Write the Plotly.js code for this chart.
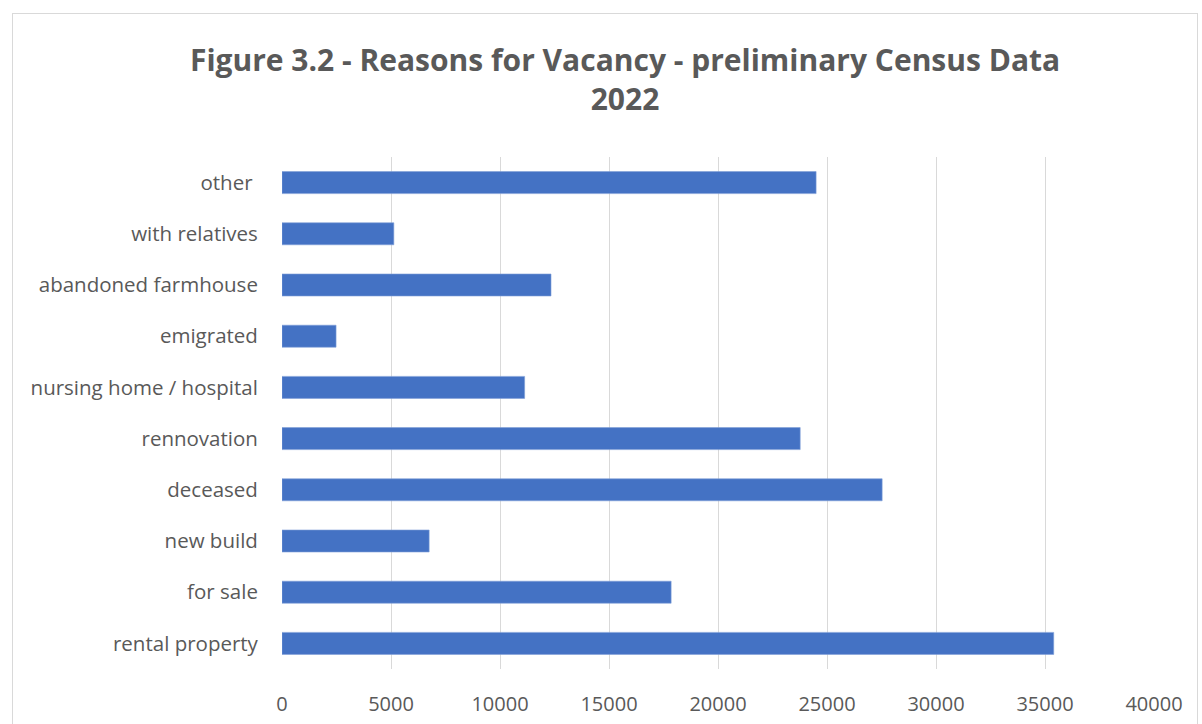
<!DOCTYPE html>
<html>
<head>
<meta charset="utf-8">
<script src="https://cdn.plot.ly/plotly-3.0.1.min.js"></script>
<style>
  html, body { margin: 0; padding: 0; background: #ffffff; }
  #wrap { position: relative; width: 1202px; height: 724px; overflow: hidden; }
  #chart { width: 1202px; height: 724px; }
  #frame { position: absolute; left: 12px; top: 13px; width: 1186px; height: 740px;
           border: 1.5px solid #d9d9d9; pointer-events: none; box-sizing: border-box; }
</style>
</head>
<body>
<div id="wrap">
  <div id="chart"></div>
  <div id="frame"></div>
</div>
<script>
const categories = ["rental property", "for sale", "new build", "deceased", "rennovation",
  "nursing home / hospital", "emigrated", "abandoned farmhouse", "with relatives", "other "];
const vacancyCounts = [35400, 17850, 6750, 27530, 23770, 11130, 2480, 12340, 5130, 24500];
const xTickValues = [0, 5000, 10000, 15000, 20000, 25000, 30000, 35000, 40000];
const titleText = "Figure 3.2 - Reasons for Vacancy - preliminary Census Data<br>2022";

const trace = {
  type: "bar",
  orientation: "h",
  y: categories,
  x: vacancyCounts,
  marker: { color: "#4472C4", line: { color: "#7f9fd8", width: 0.6 } },
  hoverinfo: "x+y"
};

const layout = {
  width: 1202,
  height: 724,
  paper_bgcolor: "#ffffff",
  plot_bgcolor: "#ffffff",
  margin: { l: 282, r: 48, t: 157, b: 55 },
  bargap: 0.57,
  showlegend: false,
  title: {
    text: titleText,
    font: { family: "Open Sans, sans-serif", size: 30, color: "#595959", weight: 700 },
    x: 0.52, xref: "container", xanchor: "center",
    y: 0.902, yref: "container", yanchor: "top"
  },
  xaxis: {
    range: [0, 40000],
    tickvals: xTickValues,
    ticktext: xTickValues.map(String),
    showgrid: true,
    gridcolor: "#d9d9d9",
    gridwidth: 1,
    zeroline: false,
    showline: false,
    ticks: "outside",
    ticklen: 17,
    tickcolor: "rgba(0,0,0,0)",
    tickfont: { family: "Open Sans, sans-serif", size: 20, color: "#595959" },
    fixedrange: true
  },
  yaxis: {
    type: "category",
    categoryorder: "array",
    categoryarray: categories,
    showgrid: false,
    zeroline: false,
    showline: false,
    ticks: "outside",
    ticklen: 19,
    tickcolor: "rgba(0,0,0,0)",
    tickfont: { family: "Open Sans, sans-serif", size: 20.5, color: "#595959" },
    fixedrange: true
  }
};

Plotly.newPlot("chart", [trace], layout, { displayModeBar: false, staticPlot: true });
</script>
</body>
</html>
